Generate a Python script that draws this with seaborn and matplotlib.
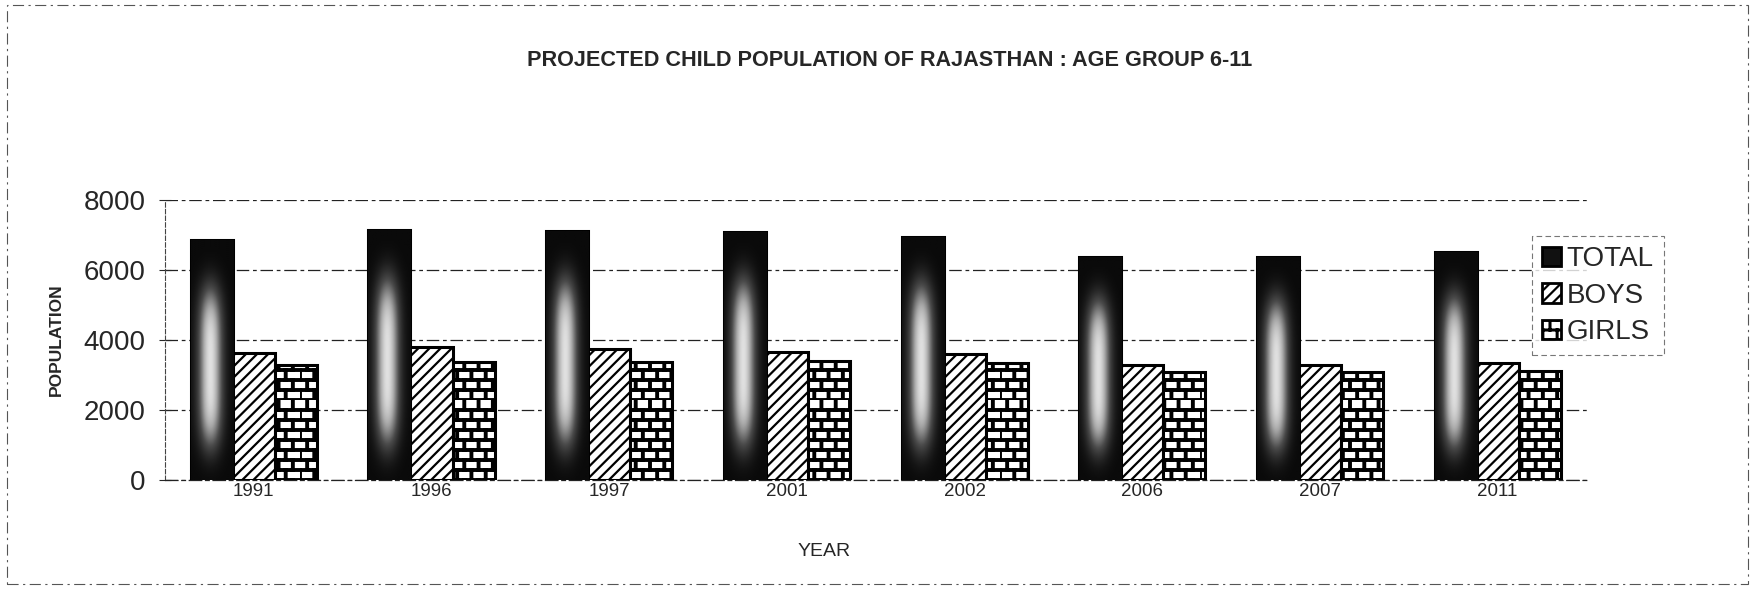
import warnings
import numpy as np
import pandas as pd
import matplotlib.pyplot as plt
import matplotlib.patches as mpatches
import matplotlib.hatch as mhatch
from matplotlib.path import Path
from matplotlib.colors import LinearSegmentedColormap
import seaborn as sns

warnings.filterwarnings("ignore")

# data
years = ["1991", "1996", "1997", "2001", "2002", "2006", "2007", "2011"]
total = [6850, 7140, 7110, 7090, 6940, 6370, 6370, 6510]
boys = [3630, 3800, 3740, 3660, 3600, 3290, 3290, 3340]
girls = [3290, 3370, 3370, 3400, 3340, 3080, 3080, 3110]
series = ["TOTAL", "BOYS", "GIRLS"]

df = pd.DataFrame({"YEAR": years * 3,
                   "POPULATION": total + boys + girls,
                   "SERIES": [s for s in series for _ in years]})


# brick hatch like the excel "brick" pattern, triggered by 'b'
class BrickHatch(mhatch.HatchPatternBase):
    def __init__(self, hatch, density):
        self.rows = 10 if "b" in hatch else 0
        self.cols = 7
        self.num_vertices = (self.rows + self.rows * self.cols) * 2

    def set_vertices_and_codes(self, vertices, codes):
        i = 0
        for r in range(self.rows):
            y0, y1 = r / self.rows, (r + 1) / self.rows
            vertices[i] = (0, y0)
            vertices[i + 1] = (1, y0)
            i += 2
            shift = 0.5 * (r % 2)
            for k in range(self.cols):
                x = (k + shift) / self.cols
                vertices[i] = (x, y0)
                vertices[i + 1] = (x, y1)
                i += 2
        codes[0::2] = Path.MOVETO
        codes[1::2] = Path.LINETO


mhatch._hatch_types.append(BrickHatch)

sns.set_style("white")
plt.rcParams["font.family"] = ["Liberation Sans", "DejaVu Sans"]
plt.rcParams["hatch.linewidth"] = 1.6
plt.rcParams["hatch.color"] = "black"

fig = plt.figure(figsize=(17.55, 5.91), dpi=100)
ax = fig.add_axes([0.094, 0.188, 0.81, 0.474])

sns.barplot(data=df, x="YEAR", y="POPULATION", hue="SERIES", order=years,
            hue_order=series, width=0.71, gap=0, ax=ax, legend=False,
            palette=["#0a0a0a", "white", "white"], saturation=1,
            edgecolor="black", linewidth=2.2, zorder=3)

# boys: diagonal hatch, girls: bricks
for p in ax.containers[1]:
    p.set_hatch("///")
for p in ax.containers[2]:
    p.set_hatch("b")
    if hasattr(p, "set_hatch_linewidth"):
        p.set_hatch_linewidth(2.8)

# faded light core on the TOTAL bars (scanned gradient look)
u = np.linspace(0, 1, 60)
v = np.linspace(0, 1, 120)
U, V = np.meshgrid(u, v)
grad = 0.92 * np.exp(-((U - 0.45) / 0.27) ** 2 - ((V - 0.47) / 0.33) ** 4)
cmap = LinearSegmentedColormap.from_list("g", ["#0a0a0a", "#4a4a4a", "#a8a8a8", "#f2f2f2"])
for p in ax.containers[0]:
    x0, y0 = p.get_x(), p.get_y()
    w, h = p.get_width(), p.get_height()
    im = ax.imshow(grad, extent=[x0, x0 + w, y0, y0 + h], origin="lower",
                   aspect="auto", cmap=cmap, vmin=0, vmax=1, zorder=3.5,
                   interpolation="bilinear")
    im.set_clip_path(p)

ax.set_xlim(-0.5, len(years) - 0.5)
ax.set_ylim(0, 8000)
ax.set_yticks([0, 2000, 4000, 6000, 8000])
ax.tick_params(axis="y", labelsize=20, direction="inout", length=8, width=0.8,
               left=True, pad=10)
ax.tick_params(axis="x", labelsize=13.5, length=0, pad=2)

ax.grid(axis="y", color="#222222", linestyle=(0, (10, 3, 3, 3)), linewidth=0.9, zorder=0)
for s in ["top", "right"]:
    ax.spines[s].set_visible(False)
ax.spines["left"].set_linestyle((0, (4, 2)))
ax.spines["left"].set_linewidth(0.8)
ax.spines["left"].set_color("#444444")
ax.spines["bottom"].set_linestyle((0, (10, 3, 3, 3)))
ax.spines["bottom"].set_linewidth(0.9)
ax.spines["bottom"].set_color("#222222")

ax.set_xlabel("YEAR", fontsize=14)
ax.xaxis.set_label_coords(0.464, -0.225)
ax.set_ylabel("POPULATION", fontsize=12.5, fontweight="bold", labelpad=14)

fig.text(0.507, 0.897, "PROJECTED CHILD POPULATION OF RAJASTHAN : AGE GROUP 6-11",
         ha="center", va="center", fontsize=15.6, fontweight="bold")

# legend
handles = [mpatches.Patch(facecolor="#111111", edgecolor="black", label="TOTAL"),
           mpatches.Patch(facecolor="white", edgecolor="black", hatch="///", label="BOYS"),
           mpatches.Patch(facecolor="white", edgecolor="black", hatch="b", label="GIRLS")]
leg = fig.legend(handles=handles, loc="upper left", bbox_to_anchor=(0.873, 0.6),
                 fontsize=20, frameon=True, fancybox=False, handlelength=0.7,
                 handleheight=0.7, handletextpad=0.2, labelspacing=0.38,
                 borderpad=0.35, borderaxespad=0)
leg.get_frame().set_edgecolor("#555555")
leg.get_frame().set_linestyle((0, (5, 3)))
leg.get_frame().set_linewidth(0.8)
for h in leg.get_patches():
    h.set_linewidth(2)
    if h.get_hatch() == "b" and hasattr(h, "set_hatch_linewidth"):
        h.set_hatch_linewidth(2.2)

# scanned page frame
frame = mpatches.Rectangle((0.004, 0.012), 0.992, 0.98, transform=fig.transFigure,
                           fill=False, edgecolor="#555555", linewidth=0.8,
                           linestyle=(0, (10, 4, 2, 4)))
fig.patches.append(frame)

fig.savefig("out.png", dpi=100)
